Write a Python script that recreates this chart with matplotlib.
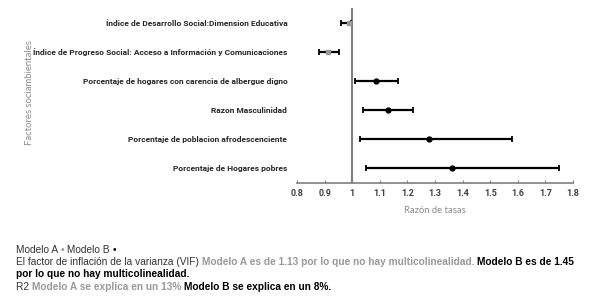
import numpy as np
import matplotlib.pyplot as plt

# factores, de arriba hacia abajo
factores = [
    "Índice de Desarrollo Social:Dimension Educativa",
    "Índice de Progreso Social: Acceso a Información y Comunicaciones",
    "Porcentaje de hogares con carencia de albergue digno",
    "Razon Masculinidad",
    "Porcentaje de poblacion afrodescenciente",
    "Porcentaje de Hogares pobres",
]
razon = [0.99, 0.913, 1.085, 1.13, 1.28, 1.36]
ic_inf = [0.96, 0.88, 1.01, 1.04, 1.03, 1.05]
ic_sup = [0.995, 0.953, 1.165, 1.22, 1.58, 1.75]
modelo = ["A", "A", "B", "B", "B", "B"]
xticks = [0.8, 0.9, 1, 1.1, 1.2, 1.3, 1.4, 1.5, 1.6, 1.7, 1.8]
xticklabels = ["0.8", "0.9", "1", "1.1", "1.2", "1.3", "1.4", "1.5", "1.6", "1.7", "1.8"]

gris = "#999999"
oscuro = "#333333"

fig = plt.figure(figsize=(5.9, 2.99), dpi=100)
ax = fig.add_axes([297 / 590, 1 - 183 / 299, 276 / 590, 175 / 299])

y = np.arange(len(factores))[::-1]
for i in range(len(factores)):
    err = [[razon[i] - ic_inf[i]], [ic_sup[i] - razon[i]]]
    col = gris if modelo[i] == "A" else "black"
    mk = "s" if modelo[i] == "A" else "o"
    ax.errorbar(razon[i], y[i], xerr=err, fmt=mk, color=col, ms=3.5,
                ecolor="black", elinewidth=1.6, capsize=2.2, capthick=1.3)

ax.axvline(1, color="#7f7f7f", lw=1.5, zorder=0)
ax.set_xlim(0.8, 1.8)
ax.set_ylim(-0.5, 5.5)
ax.set_xticks(xticks)
ax.set_xticklabels(xticklabels, fontsize=6.5, fontweight="bold", color="#404040",
                   family="Roboto")
ax.set_yticks(y)
ax.set_yticklabels(factores, fontsize=6.0, fontweight="bold", color="#262626",
                   family="Roboto")
ax.tick_params(axis="y", length=0, pad=7)
ax.tick_params(axis="x", direction="in", length=2.5, color="#7f7f7f", pad=4)
for s in ["top", "right", "left"]:
    ax.spines[s].set_visible(False)
ax.spines["bottom"].set_color("#7f7f7f")
ax.spines["bottom"].set_linewidth(1.2)
ax.set_xlabel("Razón de tasas", fontsize=6.8, color="#8c8c8c", family="Lato",
              labelpad=6)
fig.text(30 / 590, 1 - 93 / 299, "Factores sociambientales", rotation=90,
         fontsize=6.8, color="#8c8c8c", family="Lato", ha="center", va="center")

# notas con colores mezclados
renderer = fig.canvas.get_renderer()
lineas = [
    [("Modelo A ", oscuro, "normal"), ("•", gris, "normal"), (" Modelo B ", oscuro, "normal"),
     ("•", "black", "normal")],
    [("El factor de inflación de la varianza (VIF) ", oscuro, "normal"),
     ("Modelo A es de 1.13 por lo que no hay multicolinealidad. ", gris, "bold"),
     ("Modelo B es de 1.45", "black", "bold")],
    [("por lo que no hay multicolinealidad.", "black", "bold")],
    [("R2 ", oscuro, "normal"), ("Modelo A se explica en un 13% ", gris, "bold"),
     ("Modelo B se explica en un 8%.", "black", "bold")],
]
ys = [250, 262, 274, 287]
for linea, yy in zip(lineas, ys):
    x = 16 / 590
    for txt, c, w in linea:
        t = fig.text(x, 1 - yy / 299, txt, fontsize=7.25, color=c, fontweight=w,
                     family="Liberation Sans", va="center", ha="left")
        bb = t.get_window_extent(renderer)
        x = bb.x1 / fig.bbox.width

fig.savefig("out.png", dpi=100)
